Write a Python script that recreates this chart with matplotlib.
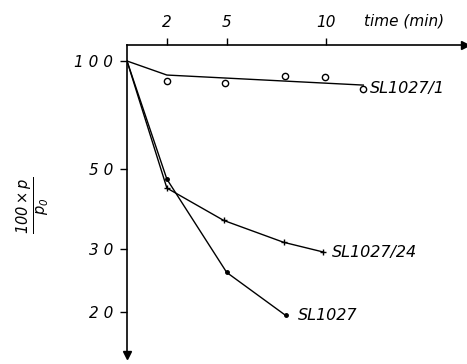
import numpy as np
import matplotlib
matplotlib.use('Agg')
import matplotlib.pyplot as plt
from matplotlib import rc

rc('font', **{'family': 'sans-serif', 'sans-serif': ['DejaVu Sans'], 'style': 'italic', 'size': 11})
rc('mathtext', fontset='dejavusans')

# measured points (time in min, 100*p/p0)
t_sl1 = [2, 4.9, 7.9, 9.95, 11.85]
p_sl1 = [88, 87, 90.8, 90.3, 83.6]
fit_t_sl1 = [0, 2, 11.85]
fit_p_sl1 = [100, 91.4, 85.7]

t_sl24 = [0, 2, 4.85, 7.85, 9.85]
p_sl24 = [100, 44.3, 36.0, 31.3, 29.4]

t_sl = [0, 2, 5, 7.95]
p_sl = [100, 46.9, 25.8, 19.6]

yticks = [100, 50, 30, 20]
ytick_labels = ['1 0 0', '5 0', '3 0', '2 0']
xticks = [2, 5, 10]

fig = plt.figure(figsize=(4.67, 3.64), dpi=100)
ax = fig.add_axes([127/467, 1-355/364, 338/467, 310/364])

ax.plot(fit_t_sl1, fit_p_sl1, color='black', lw=1)
ax.plot(t_sl1, p_sl1, 'o', ms=4.5, mfc='white', mec='black', mew=1)
ax.plot(t_sl24, p_sl24, color='black', lw=1, marker='+', ms=5, mew=1, markevery=[1, 2, 3, 4])
ax.plot(t_sl, p_sl, color='black', lw=1, marker='o', ms=2.5, markevery=[1, 2, 3])

ax.text(t_sl1[-1] + 0.35, p_sl1[-1], 'SL1027/1', va='center', ha='left', fontsize=11.5)
ax.text(t_sl24[-1] + 0.45, p_sl24[-1], 'SL1027/24', va='center', ha='left', fontsize=11.5)
ax.text(t_sl[-1] + 0.6, p_sl[-1], 'SL1027', va='center', ha='left', fontsize=11.5)

ax.set_yscale('log')
ax.set_xlim(0, 16.95)
ax.set_ylim(15.2, 110.8)
ax.set_yticks(yticks)
ax.set_yticklabels(ytick_labels)
ax.yaxis.set_minor_locator(matplotlib.ticker.NullLocator())
ax.set_xticks(xticks)
ax.xaxis.tick_top()
ax.tick_params(axis='y', direction='out', length=5, width=1, pad=5)
ax.tick_params(axis='x', direction='out', length=5, width=1, pad=6)

for s in ['right', 'bottom']:
    ax.spines[s].set_visible(False)
for s in ['top', 'left']:
    ax.spines[s].set_linewidth(1.2)

# arrow heads
ax.plot(1, 1, '>', color='black', ms=5.5, transform=ax.transAxes, clip_on=False)
ax.plot(0, 0, 'v', color='black', ms=6, transform=ax.transAxes, clip_on=False)

ax.annotate('time (min)', xy=(11.9, 1), xycoords=('data', 'axes fraction'),
            xytext=(0, 12), textcoords='offset points', va='bottom', ha='left')

fig.text(33/467, 1-205/364, r'$\frac{100\times p}{p_0}$', rotation=90,
         ha='center', va='center', fontsize=15)

plt.savefig('out.png', dpi=100)
